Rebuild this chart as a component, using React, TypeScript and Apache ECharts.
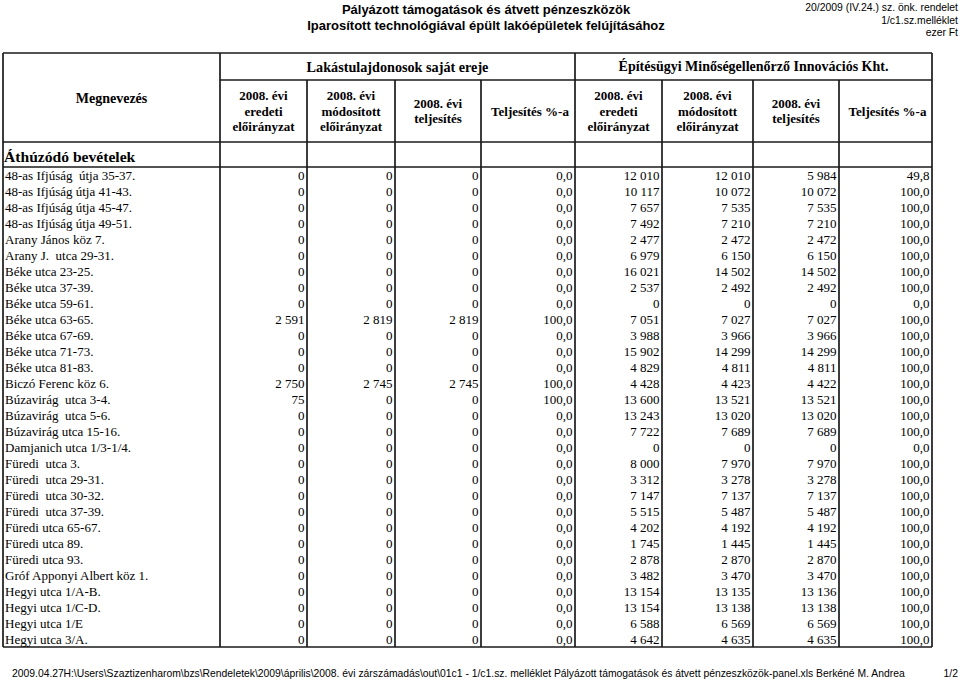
import React, { useEffect, useRef } from "react";
import * as echarts from "echarts";

const rowNames = [
  "48-as Ifjúság  útja 35-37.",
  "48-as Ifjúság útja 41-43.",
  "48-as Ifjúság útja 45-47.",
  "48-as Ifjúság útja 49-51.",
  "Arany János köz 7.",
  "Arany J.  utca 29-31.",
  "Béke utca 23-25.",
  "Béke utca 37-39.",
  "Béke utca 59-61.",
  "Béke utca 63-65.",
  "Béke utca 67-69.",
  "Béke utca 71-73.",
  "Béke utca 81-83.",
  "Biczó Ferenc köz 6.",
  "Búzavirág  utca 3-4.",
  "Búzavirág  utca 5-6.",
  "Búzavirág utca 15-16.",
  "Damjanich utca 1/3-1/4.",
  "Füredi  utca 3.",
  "Füredi  utca 29-31.",
  "Füredi  utca 30-32.",
  "Füredi  utca 37-39.",
  "Füredi utca 65-67.",
  "Füredi utca 89.",
  "Füredi utca 93.",
  "Gróf Apponyi Albert köz 1.",
  "Hegyi utca 1/A-B.",
  "Hegyi utca 1/C-D.",
  "Hegyi utca 1/E",
  "Hegyi utca 3/A.",
];

const lakEredeti = [0, 0, 0, 0, 0, 0, 0, 0, 0, 2591, 0, 0, 0, 2750, 75, 0, 0, 0, 0, 0, 0, 0, 0, 0, 0, 0, 0, 0, 0, 0];
const lakModositott = [0, 0, 0, 0, 0, 0, 0, 0, 0, 2819, 0, 0, 0, 2745, 0, 0, 0, 0, 0, 0, 0, 0, 0, 0, 0, 0, 0, 0, 0, 0];
const lakTeljesites = [0, 0, 0, 0, 0, 0, 0, 0, 0, 2819, 0, 0, 0, 2745, 0, 0, 0, 0, 0, 0, 0, 0, 0, 0, 0, 0, 0, 0, 0, 0];
const lakSzazalek = [0, 0, 0, 0, 0, 0, 0, 0, 0, 100, 0, 0, 0, 100, 100, 0, 0, 0, 0, 0, 0, 0, 0, 0, 0, 0, 0, 0, 0, 0];

const khtEredeti = [12010, 10117, 7657, 7492, 2477, 6979, 16021, 2537, 0, 7051, 3988, 15902, 4829, 4428, 13600, 13243, 7722, 0, 8000, 3312, 7147, 5515, 4202, 1745, 2878, 3482, 13154, 13154, 6588, 4642];
const khtModositott = [12010, 10072, 7535, 7210, 2472, 6150, 14502, 2492, 0, 7027, 3966, 14299, 4811, 4423, 13521, 13020, 7689, 0, 7970, 3278, 7137, 5487, 4192, 1445, 2870, 3470, 13135, 13138, 6569, 4635];
const khtTeljesites = [5984, 10072, 7535, 7210, 2472, 6150, 14502, 2492, 0, 7027, 3966, 14299, 4811, 4422, 13521, 13020, 7689, 0, 7970, 3278, 7137, 5487, 4192, 1445, 2870, 3470, 13136, 13138, 6569, 4635];
const khtSzazalek = [49.8, 100, 100, 100, 100, 100, 100, 100, 0, 100, 100, 100, 100, 100, 100, 100, 100, 0, 100, 100, 100, 100, 100, 100, 100, 100, 100, 100, 100, 100];

const groupHeaders = ["Lakástulajdonosok saját ereje", "Építésügyi Minőségellenőrző Innovációs Kht."];
const columnHeaders = [
  ["2008. évi", "eredeti", "előirányzat"],
  ["2008. évi", "módosított", "előirányzat"],
  ["2008. évi", "teljesítés"],
  ["Teljesítés %-a"],
  ["2008. évi", "eredeti", "előirányzat"],
  ["2008. évi", "módosított", "előirányzat"],
  ["2008. évi", "teljesítés"],
  ["Teljesítés %-a"],
];
const nameHeader = "Megnevezés";
const sectionTitle = "Áthúzódó bevételek";
const titleLines = ["Pályázott támogatások és átvett pénzeszközök", "Iparosított technológiával épült lakóépületek felújításához"];
const topRightLines = ["20/2009 (IV.24.) sz. önk. rendelet", "1/c1.sz.melléklet", "ezer Ft"];
const footerDate = "2009.04.27";
const footerPath =
  "H:\\Users\\Szaztizenharom\\bzs\\Rendeletek\\2009\\április\\2008. évi zárszámadás\\out\\01c1 - 1/c1.sz. melléklet Pályázott támogatások és átvett pénzeszközök-panel.xls Berkéné M. Andrea";
const footerPage = "1/2";

// layout (pixels)
const TL = 3, TR = 932, TTOP = 53, BAND1 = 80, HEAD_BOTTOM = 142, SECTION_BOTTOM = 167, TBOTTOM = 647;
const colLines = [220, 307, 395, 481, 575, 662, 753, 839, 932];

const SERIF = "'Liberation Serif', 'Times New Roman', serif";
const SANS = "'Liberation Sans', Arial, sans-serif";

function fmtInt(n: number) {
  return String(n).replace(/\B(?=(\d{3})+(?!\d))/g, " ");
}
function fmtPct(n: number) {
  return n.toFixed(1).replace(".", ",");
}

export default function App() {
  const ref = useRef<HTMLDivElement>(null);
  useEffect(() => {
    if (!ref.current) return;
    const chart = echarts.init(ref.current, undefined, { renderer: "svg" });

    const columns = [lakEredeti, lakModositott, lakTeljesites, lakSzazalek, khtEredeti, khtModositott, khtTeljesites, khtSzazalek];
    const cellData: any[] = [];
    columns.forEach((col, c) => {
      col.forEach((v, r) => {
        cellData.push([c, r, v]);
      });
    });
    const colRight = colLines.slice(1).map((x) => x - TL);

    const lineStyle = { stroke: "#1a1a1a", lineWidth: 1.7 };
    const hLine = (x1: number, x2: number, y: number) => ({ type: "line", shape: { x1, y1: y, x2, y2: y }, style: lineStyle, silent: true });
    const vLine = (x: number, y1: number, y2: number) => ({ type: "line", shape: { x1: x, y1, x2: x, y2 }, style: lineStyle, silent: true });

    const graphics: any[] = [];
    titleLines.forEach((t, i) => {
      graphics.push({ type: "text", x: 486, y: 9 + i * 16.5, style: { text: t, font: `bold 13px ${SANS}`, fill: "#000", textAlign: "center", textVerticalAlign: "middle" } });
    });
    topRightLines.forEach((t, i) => {
      graphics.push({ type: "text", x: 958, y: 7.5 + i * 12.5, style: { text: t, font: `10.4px ${SANS}`, fill: "#000", textAlign: "right", textVerticalAlign: "middle" } });
    });
    graphics.push(hLine(TL, TR, TTOP));
    graphics.push(hLine(colLines[0], TR, BAND1));
    graphics.push(hLine(TL, TR, HEAD_BOTTOM));
    graphics.push(hLine(TL, TR, SECTION_BOTTOM));
    graphics.push(hLine(TL, TR, TBOTTOM));
    graphics.push(vLine(TL, TTOP, TBOTTOM));
    colLines.forEach((x, i) => {
      const top = i === 0 || i === 4 || i === 8 ? TTOP : BAND1;
      graphics.push(vLine(x, top, TBOTTOM));
    });
    graphics.push({ type: "text", x: (colLines[0] + colLines[4]) / 2, y: 66.5, style: { text: groupHeaders[0], font: `bold 14.2px ${SERIF}`, fill: "#000", textAlign: "center", textVerticalAlign: "middle" } });
    graphics.push({ type: "text", x: (colLines[4] + colLines[8]) / 2, y: 66.5, style: { text: groupHeaders[1], font: `bold 14px ${SERIF}`, fill: "#000", textAlign: "center", textVerticalAlign: "middle" } });
    graphics.push({ type: "text", x: (TL + colLines[0]) / 2, y: 98, style: { text: nameHeader, font: `bold 14px ${SERIF}`, fill: "#000", textAlign: "center", textVerticalAlign: "middle" } });
    columnHeaders.forEach((lines, c) => {
      const cx = (colLines[c] + colLines[c + 1]) / 2 + (lines.length === 1 ? 2 : 0);
      const centerY = 111;
      const lh = 15.8;
      lines.forEach((t, k) => {
        const y = centerY + (k - (lines.length - 1) / 2) * lh;
        graphics.push({ type: "text", x: cx, y, style: { text: t, font: `bold 13px ${SERIF}`, fill: "#000", textAlign: "center", textVerticalAlign: "middle" } });
      });
    });
    graphics.push({ type: "text", x: 4, y: 156, style: { text: sectionTitle, font: `bold 15.6px ${SERIF}`, fill: "#000", textAlign: "left", textVerticalAlign: "middle" } });
    graphics.push({ type: "text", x: 12, y: 673, style: { text: footerDate, font: `10.35px ${SANS}`, fill: "#000", textAlign: "left", textVerticalAlign: "middle" } });
    graphics.push({ type: "text", x: 63.5, y: 673, style: { text: footerPath, font: `10.35px ${SANS}`, fill: "#000", textAlign: "left", textVerticalAlign: "middle" } });
    graphics.push({ type: "text", x: 958, y: 673, style: { text: footerPage, font: `10.35px ${SANS}`, fill: "#000", textAlign: "right", textVerticalAlign: "middle" } });

    chart.setOption({
      animation: false,
      backgroundColor: "#fff",
      grid: { left: TL, top: SECTION_BOTTOM, width: TR - TL, height: TBOTTOM - SECTION_BOTTOM, containLabel: false },
      xAxis: { type: "value", min: 0, max: TR - TL, show: false },
      yAxis: {
        type: "category",
        data: rowNames,
        inverse: true,
        axisLine: { show: false },
        axisTick: { show: false },
        splitLine: { show: false },
        axisLabel: {
          inside: true,
          interval: 0,
          margin: 2,
          color: "#000",
          fontFamily: SERIF,
          fontSize: 13,
          align: "left",
        },
      },
      graphic: graphics,
      series: [
        {
          type: "custom",
          data: cellData,
          encode: { x: 0, y: 1 },
          renderItem: (params: any, api: any) => {
            const c = api.value(0);
            const r = api.value(1);
            const v = api.value(2);
            const p = api.coord([colRight[c], r]);
            const txt = c === 3 || c === 7 ? fmtPct(v) : fmtInt(v);
            return {
              type: "text",
              x: p[0] - 2.5,
              y: p[1] + 0.8,
              style: { text: txt, font: `13px ${SERIF}`, fill: "#000", textAlign: "right", textVerticalAlign: "middle" },
            };
          },
        },
      ],
    });
    return () => chart.dispose();
  }, []);
  return <div ref={ref} style={{ position: "fixed", left: 0, top: 0, width: 960, height: 680, background: "#fff" }} />;
}
